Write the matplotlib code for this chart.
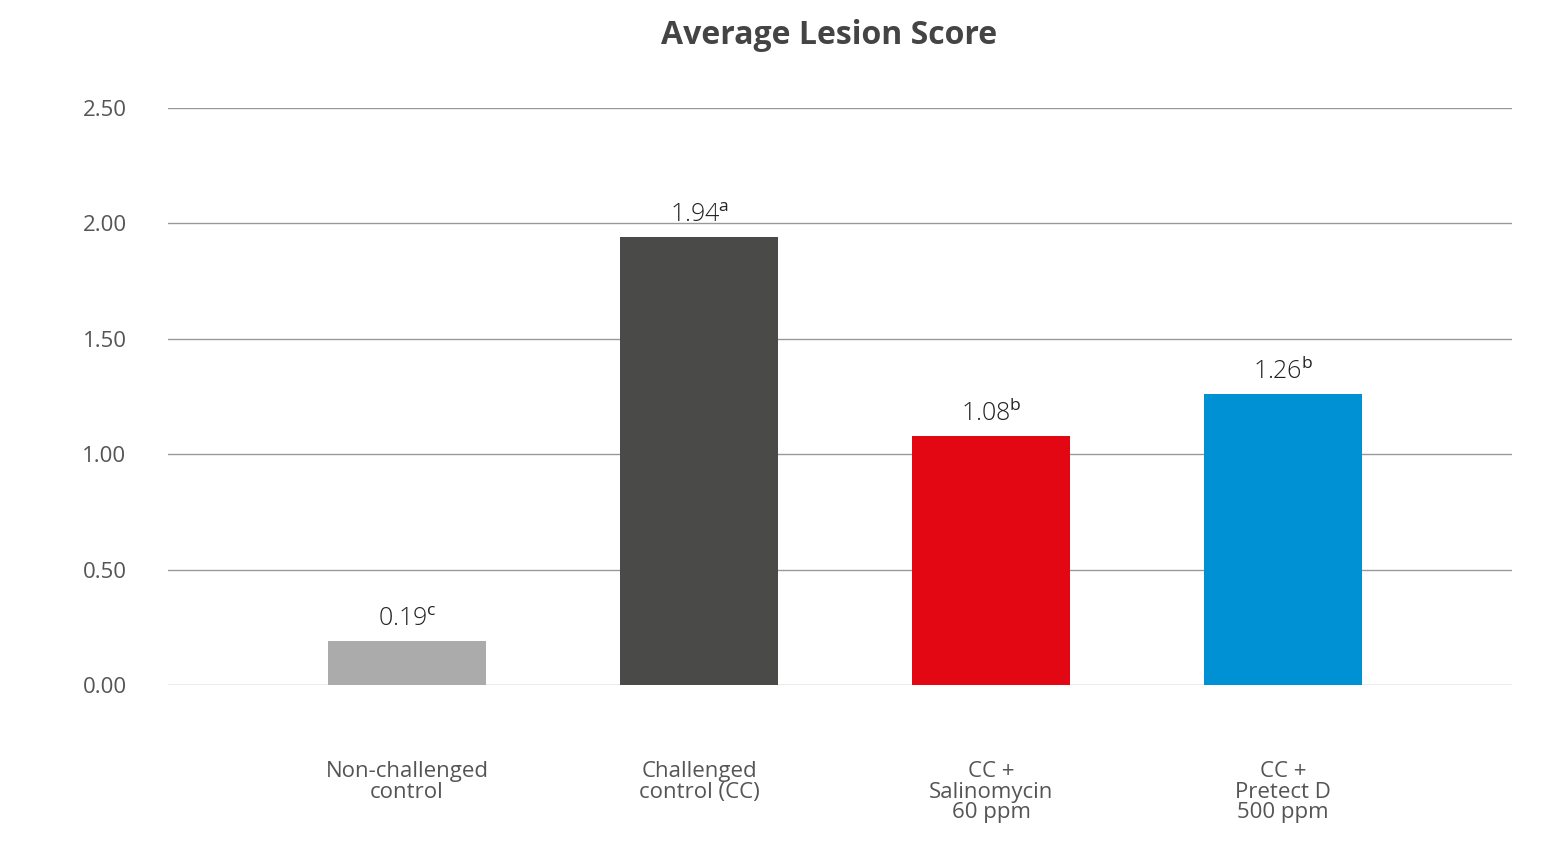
import matplotlib.pyplot as plt

plt.rcParams['font.family'] = ['Open Sans', 'DejaVu Sans']
plt.rcParams['mathtext.fontset'] = 'custom'
plt.rcParams['mathtext.rm'] = 'Open Sans'

categories = ['Non-challenged\ncontrol', 'Challenged\ncontrol (CC)',
              'CC +\nSalinomycin\n60 ppm', 'CC +\nPretect D\n500 ppm']
values = [0.19, 1.94, 1.08, 1.26]
letters = ['c', 'a', 'b', 'b']
colors = ['#ababab', '#4a4a49', '#e30613', '#0091d5']
yticks = [0.0, 0.5, 1.0, 1.5, 2.0, 2.5]

fig = plt.figure(figsize=(15.43, 8.41), dpi=100)
ax = fig.add_axes([0.109, 0.1855, 0.871, 0.686])

x = range(len(values))
ax.bar(x, values, width=0.54, color=colors, zorder=3)
for xi, v, l in zip(x, values, letters):
    ax.text(xi, v + 0.04, f'{v:.2f}$^{{\\mathrm{{{l}}}}}$', ha='center', va='bottom',
            fontsize=18, color='#222222', fontweight='light')

ax.set_xlim(-0.818, 3.784)
ax.set_ylim(0, 2.5)
ax.set_yticks(yticks)
ax.set_yticklabels([f'{t:.2f}' for t in yticks], fontsize=16, color='#555555')
ax.set_xticks(list(x))
ax.set_xticklabels(categories, fontsize=16, color='#555555', linespacing=0.95)
ax.tick_params(length=0)
ax.tick_params(axis='x', pad=55)
ax.tick_params(axis='y', pad=30)
ax.grid(axis='y', color='#999999', linewidth=1, zorder=0)
for s in ax.spines.values():
    s.set_visible(False)

fig.text(0.537, 0.958, 'Average Lesion Score', ha='center', va='center',
         fontsize=23, fontweight='bold', color='#444444')

fig.savefig('out.png', dpi=100)
